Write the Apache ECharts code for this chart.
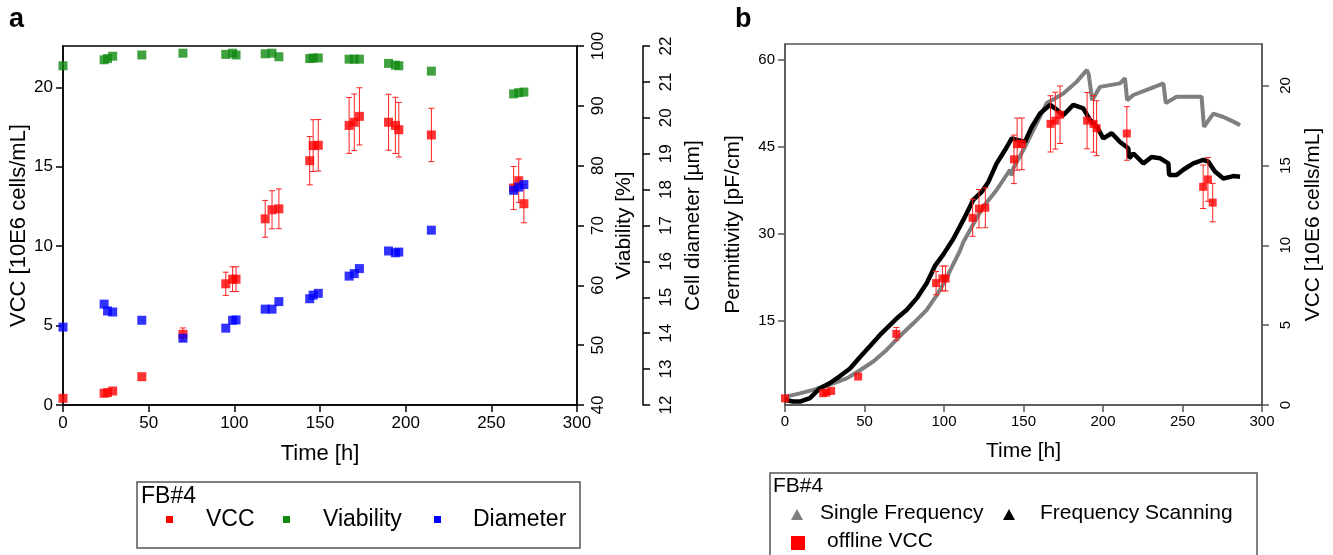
<!DOCTYPE html>
<html>
<head>
<meta charset="utf-8">
<script src="https://cdn.jsdelivr.net/npm/echarts@6/dist/echarts.min.js"></script>
<style>
  html, body { margin: 0; padding: 0; background: #fff; }
  #chart { width: 1333px; height: 555px; }
</style>
</head>
<body>
<div id="chart"></div>
<script>
// sampling times [h] of the offline measurements
var sampleTime = [0, 24, 26, 29, 46, 70, 95, 99, 101, 118, 122, 126, 144, 146, 149, 167, 170, 173, 190, 194, 196, 215, 263, 266, 269];
// VCC [10E6 cells/mL] and its error (half width)
var vcc = [0.42, 0.74, 0.78, 0.88, 1.78, 4.45, 7.63, 7.92, 7.92, 11.72, 12.29, 12.35, 15.38, 16.33, 16.35, 17.6, 17.8, 18.17, 17.8, 17.6, 17.33, 17.0, 13.66, 14.12, 12.67];
var vccErr = [0, 0, 0, 0, 0, 0.4, 0.73, 0.78, 0.78, 1.16, 1.2, 1.25, 1.52, 1.63, 1.62, 1.76, 1.78, 1.8, 1.76, 1.77, 1.72, 1.68, 1.36, 1.37, 1.2];
// viability [%]
var viability = [96.7, 97.7, 97.9, 98.3, 98.5, 98.8, 98.6, 98.8, 98.5, 98.7, 98.8, 98.2, 97.9, 98.0, 98.0, 97.8, 97.8, 97.8, 97.1, 96.8, 96.7, 95.8, 92.0, 92.2, 92.3];
// cell diameter [um]
var diameter = [14.17, 14.81, 14.62, 14.59, 14.36, 13.86, 14.14, 14.36, 14.37, 14.67, 14.67, 14.88, 14.96, 15.06, 15.11, 15.59, 15.66, 15.8, 16.29, 16.24, 16.26, 16.87, 17.98, 18.07, 18.14];

// online permittivity [pF/cm], panel b
var singleTime = [0, 1, 9.4, 17.8, 28.3, 38.8, 47.2, 55.5, 63.9, 72.3, 80.7, 89.1, 95.4, 101.7, 103.8, 110, 112.1, 118.4, 124.7, 133.1, 141.5, 142.5, 143.5, 149.9, 158.3, 164.6, 169.8, 175.2, 183.5, 189.8, 191, 193.2, 198.1, 204.4, 210.7, 213.8, 215.2, 219.1, 227.5, 238, 239.5, 246.3, 254.7, 262, 263.5, 269.4, 275.7, 282, 286.2];
var singlePerm = [1.8, 1.8, 2.4, 3.0, 3.9, 5.0, 6.4, 7.9, 9.9, 12.3, 14.5, 16.8, 19.3, 22.3, 23.6, 27.0, 28.5, 31.6, 34.6, 37.5, 41.0, 40.0, 41.2, 44.4, 49.0, 52.5, 53.3, 54.2, 56.2, 58.2, 57.5, 53.0, 55.3, 55.6, 55.9, 56.8, 53.0, 53.9, 54.8, 55.9, 52.5, 53.6, 53.6, 53.6, 48.4, 50.7, 50.1, 49.3, 48.7];
var scanTime = [0, 1, 5, 9.4, 15.7, 22, 28.3, 34.6, 40.9, 47.2, 53.5, 59.7, 66, 71.3, 76.5, 82.8, 89.1, 94.3, 99.6, 105.9, 112.1, 118.4, 123.7, 127.9, 133.1, 138.4, 142.6, 146.7, 150.9, 155.2, 160.4, 166.7, 169.8, 175, 181.3, 187.6, 191.8, 196, 200.2, 205.5, 210.7, 215.9, 216.5, 219.1, 225.4, 230.6, 235.8, 241.1, 241.6, 246.3, 250.5, 256.8, 263.1, 266.2, 270.4, 275.7, 282, 286.2];
var scanPerm = [1.3, 1.3, 1.0, 1.0, 1.6, 3.3, 4.2, 5.4, 6.7, 8.7, 10.6, 12.5, 14.2, 15.6, 16.8, 18.8, 21.4, 24.4, 26.4, 29.1, 32.3, 35.8, 37.2, 38.9, 42.1, 44.4, 46.4, 46.1, 45.8, 48.4, 50.7, 52.2, 51.6, 50.4, 52.2, 51.6, 49.6, 48.5, 46.4, 47.3, 45.8, 44.7, 43.0, 43.8, 42.1, 43.2, 43.0, 42.1, 40.1, 40.1, 41.0, 42.1, 42.7, 42.4, 40.7, 39.5, 39.9, 39.8];

var timeTicks = [0, 50, 100, 150, 200, 250, 300];
var vccTicks = [0, 5, 10, 15, 20];
var permTicks = [15, 30, 45, 60];

var FONT = 'Liberation Sans, Arial, sans-serif';

function zip(a, b, c) {
  return a.map(function (v, i) { return c ? [v, b[i], c[i]] : [v, b[i]]; });
}

function errorBars(params, api) {
  var e = api.value(2);
  if (!e) return null;
  var x = api.value(0), y = api.value(1);
  var top = api.coord([x, y + e]);
  var bot = api.coord([x, y - e]);
  var w = 3;
  var st = { stroke: '#ff2020', lineWidth: 1 };
  return {
    type: 'group',
    children: [
      { type: 'line', shape: { x1: top[0], y1: top[1], x2: bot[0], y2: bot[1] }, style: st },
      { type: 'line', shape: { x1: top[0] - w, y1: top[1], x2: top[0] + w, y2: top[1] }, style: st },
      { type: 'line', shape: { x1: bot[0] - w, y1: bot[1], x2: bot[0] + w, y2: bot[1] }, style: st }
    ]
  };
}

function axisBase(color, size) {
  return {
    axisLine: { show: true, onZero: false, lineStyle: { color: color, width: 1.5 } },
    axisTick: { show: true, length: 7, lineStyle: { color: color, width: 1.5 } },
    splitLine: { show: false },
    axisLabel: { color: '#000', fontSize: size, fontFamily: FONT }
  };
}

function merge(a, b) {
  var o = {};
  for (var k in a) o[k] = a[k];
  for (var k2 in b) {
    if (o[k2] && typeof o[k2] === 'object' && typeof b[k2] === 'object' && !Array.isArray(b[k2])) {
      o[k2] = Object.assign({}, o[k2], b[k2]);
    } else {
      o[k2] = b[k2];
    }
  }
  return o;
}

var chart = echarts.init(document.getElementById('chart'));

var option = {
  animation: false,
  backgroundColor: '#fff',
  textStyle: { fontFamily: FONT },
  grid: [
    { left: 63, top: 46, width: 514, height: 359, show: true, borderColor: '#000', borderWidth: 1.5 },
    { left: 785, top: 44, width: 477, height: 361, show: true, borderColor: '#555', borderWidth: 1.5 }
  ],
  xAxis: [
    merge(axisBase('#000', 17), {
      type: 'value', gridIndex: 0, min: 0, max: 300, interval: 50,
      axisLabel: { margin: 10 },
      name: 'Time [h]', nameLocation: 'middle', nameGap: 38,
      nameTextStyle: { fontSize: 22, color: '#000', fontFamily: FONT }
    }),
    merge(axisBase('#555', 15), {
      type: 'value', gridIndex: 1, min: 0, max: 300, interval: 50,
      axisLabel: { margin: 9 },
      name: 'Time [h]', nameLocation: 'middle', nameGap: 36,
      nameTextStyle: { fontSize: 21, color: '#000', fontFamily: FONT }
    })
  ],
  yAxis: [
    merge(axisBase('#000', 17), {
      type: 'value', gridIndex: 0, position: 'left', min: 0, max: 22.6,
      axisLabel: { margin: 10, customValues: vccTicks },
      axisTick: { customValues: vccTicks },
      name: 'VCC [10E6 cells/mL]', nameLocation: 'middle', nameGap: 27,
      nameTextStyle: { fontSize: 22, color: '#000', fontFamily: FONT }
    }),
    merge(axisBase('#000', 17), {
      type: 'value', gridIndex: 0, position: 'right', min: 40, max: 100, interval: 10,
      axisLabel: { margin: 13, rotate: 90 },
      name: 'Viability [%]', nameLocation: 'middle', nameGap: 37,
      nameTextStyle: { fontSize: 21, color: '#000', fontFamily: FONT }
    }),
    merge(axisBase('#000', 17), {
      type: 'value', gridIndex: 0, position: 'right', offset: 66, min: 12, max: 22, interval: 1,
      axisLabel: { margin: 15, rotate: 90 },
      name: 'Cell diameter [\u00b5m]', nameLocation: 'middle', nameGap: 40,
      nameTextStyle: { fontSize: 21, color: '#000', fontFamily: FONT }
    }),
    merge(axisBase('#555', 15), {
      type: 'value', gridIndex: 1, position: 'left', min: 0.4, max: 62.7,
      axisLabel: { margin: 10, customValues: permTicks },
      axisTick: { customValues: permTicks },
      name: 'Permittivity [pF/cm]', nameLocation: 'middle', nameGap: 41,
      nameTextStyle: { fontSize: 21, color: '#000', fontFamily: FONT }
    }),
    merge(axisBase('#555', 15), {
      type: 'value', gridIndex: 1, position: 'right', min: 0, max: 22.6,
      axisLabel: { margin: 16, rotate: 90, customValues: vccTicks },
      axisTick: { customValues: vccTicks },
      name: 'VCC [10E6 cells/mL]', nameLocation: 'middle', nameGap: 41,
      nameTextStyle: { fontSize: 21, color: '#000', fontFamily: FONT }
    })
  ],
  series: [
    // panel a
    {
      name: 'VCC err', type: 'custom', xAxisIndex: 0, yAxisIndex: 0,
      renderItem: errorBars, data: zip(sampleTime, vcc, vccErr),
      encode: { x: 0, y: 1 }, z: 2
    },
    {
      name: 'VCC', type: 'scatter', xAxisIndex: 0, yAxisIndex: 0,
      symbol: 'rect', symbolSize: 9, itemStyle: { color: '#ff0000' },
      data: zip(sampleTime, vcc), z: 3
    },
    {
      name: 'Viability', type: 'scatter', xAxisIndex: 0, yAxisIndex: 1,
      symbol: 'rect', symbolSize: 9, itemStyle: { color: '#108a10' },
      data: zip(sampleTime, viability), z: 3
    },
    {
      name: 'Diameter', type: 'scatter', xAxisIndex: 0, yAxisIndex: 2,
      symbol: 'rect', symbolSize: 9, itemStyle: { color: '#0000ff' },
      data: zip(sampleTime, diameter), z: 4
    },
    // panel b
    {
      name: 'Single Frequency', type: 'line', xAxisIndex: 1, yAxisIndex: 3,
      showSymbol: false, lineStyle: { color: '#7f7f7f', width: 4 }, itemStyle: { color: '#7f7f7f' },
      data: zip(singleTime, singlePerm), z: 2
    },
    {
      name: 'Frequency Scanning', type: 'line', xAxisIndex: 1, yAxisIndex: 3,
      showSymbol: false, lineStyle: { color: '#000', width: 4.5 }, itemStyle: { color: '#000' },
      data: zip(scanTime, scanPerm), z: 2
    },
    {
      name: 'offline VCC err', type: 'custom', xAxisIndex: 1, yAxisIndex: 4,
      renderItem: errorBars, data: zip(sampleTime, vcc, vccErr),
      encode: { x: 0, y: 1 }, z: 3
    },
    {
      name: 'offline VCC', type: 'scatter', xAxisIndex: 1, yAxisIndex: 4,
      symbol: 'rect', symbolSize: 8, itemStyle: { color: '#ff0000' },
      data: zip(sampleTime, vcc), z: 4
    }
  ],
  graphic: [
    { type: 'text', left: 9, top: 6, style: { text: 'a', font: 'bold 27px ' + FONT, fill: '#000' } },
    { type: 'text', left: 735, top: 6, style: { text: 'b', font: 'bold 27px ' + FONT, fill: '#000' } },
    // legend a
    { type: 'rect', shape: { x: 137, y: 482, width: 443, height: 66 }, style: { fill: 'none', stroke: '#555', lineWidth: 1.5 } },
    { type: 'text', x: 141, y: 485, style: { text: 'FB#4', font: '23px ' + FONT, fill: '#000' } },
    { type: 'rect', shape: { x: 166, y: 516, width: 7, height: 7 }, style: { fill: '#ff0000' } },
    { type: 'text', x: 206, y: 508, style: { text: 'VCC', font: '23px ' + FONT, fill: '#000' } },
    { type: 'rect', shape: { x: 283, y: 516, width: 7, height: 7 }, style: { fill: '#108a10' } },
    { type: 'text', x: 323, y: 508, style: { text: 'Viability', font: '23px ' + FONT, fill: '#000' } },
    { type: 'rect', shape: { x: 434, y: 516, width: 7, height: 7 }, style: { fill: '#0000ff' } },
    { type: 'text', x: 473, y: 508, style: { text: 'Diameter', font: '23px ' + FONT, fill: '#000' } },
    // legend b
    { type: 'rect', shape: { x: 770, y: 473, width: 487, height: 100 }, style: { fill: 'none', stroke: '#555', lineWidth: 1.5 } },
    { type: 'text', x: 773, y: 476, style: { text: 'FB#4', font: '21px ' + FONT, fill: '#000' } },
    { type: 'polygon', shape: { points: [[797, 509], [791, 520], [803, 520]] }, style: { fill: '#7f7f7f' } },
    { type: 'text', x: 820, y: 503, style: { text: 'Single Frequency', font: '21px ' + FONT, fill: '#000' } },
    { type: 'polygon', shape: { points: [[1009, 509], [1003, 520], [1015, 520]] }, style: { fill: '#000' } },
    { type: 'text', x: 1040, y: 503, style: { text: 'Frequency Scanning', font: '21px ' + FONT, fill: '#000' } },
    { type: 'rect', shape: { x: 791, y: 536, width: 14, height: 14 }, style: { fill: '#ff0000' } },
    { type: 'text', x: 827, y: 531, style: { text: 'offline VCC', font: '21px ' + FONT, fill: '#000' } }
  ]
};

chart.setOption(option);
</script>
</body>
</html>
